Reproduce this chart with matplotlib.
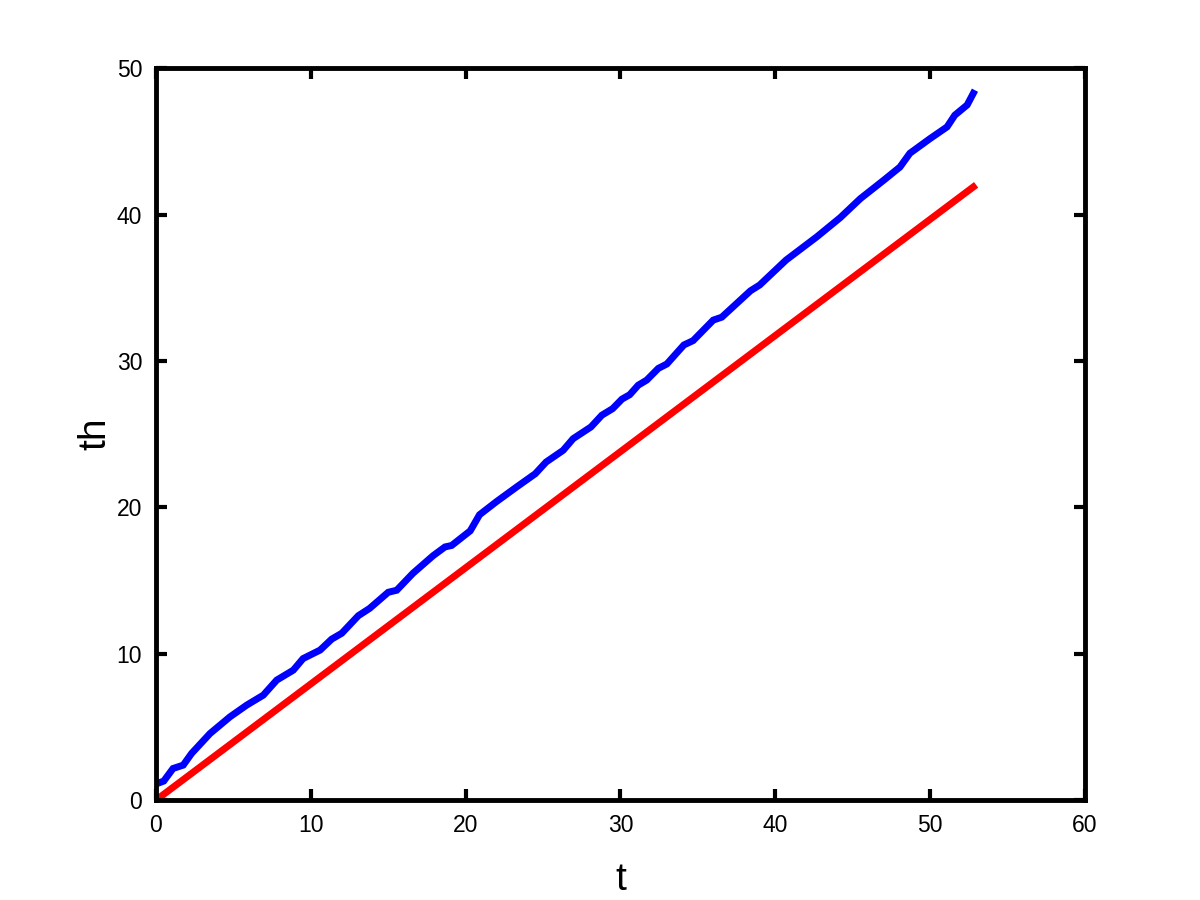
import numpy as np
import matplotlib
matplotlib.use("Agg")
import matplotlib.pyplot as plt

plt.rcParams["font.family"] = ["Liberation Sans", "DejaVu Sans"]

# blue curve
t_blue = [0.0, 0.5, 1.1, 1.76, 2.3, 3.49, 4.78, 5.86, 6.93, 7.8, 8.87, 9.5,
          10.6, 11.35, 12.0, 13.07, 13.8, 15.0, 15.55, 16.6, 17.9, 18.67, 19.1,
          20.3, 20.9, 22.0, 23.3, 24.5, 25.2, 26.3, 26.95, 28.1, 28.8, 29.5,
          30.1, 30.6, 31.15, 31.7, 32.45, 33.0, 34.1, 34.7, 36.0, 36.55, 38.4,
          39.0, 40.7, 42.7, 44.2, 45.5, 47.0, 48.06, 48.7, 50.0, 51.1, 51.6,
          52.4, 52.8]
th_blue = [1.1, 1.3, 2.16, 2.39, 3.19, 4.55, 5.69, 6.49, 7.17, 8.2, 8.88, 9.67,
           10.25, 11.0, 11.4, 12.6, 13.1, 14.2, 14.34, 15.5, 16.7, 17.3, 17.4,
           18.4, 19.5, 20.4, 21.4, 22.3, 23.1, 23.9, 24.7, 25.5, 26.3, 26.75,
           27.4, 27.7, 28.35, 28.7, 29.5, 29.8, 31.1, 31.4, 32.8, 33.0, 34.8,
           35.2, 36.9, 38.5, 39.8, 41.1, 42.35, 43.26, 44.2, 45.2, 46.0, 46.8,
           47.5, 48.3]

# red straight line
t_red = [0.0, 52.8]
th_red = [0.0, 41.9]

fig = plt.figure(figsize=(12, 9), dpi=100)
ax = fig.add_axes([0.13, 0.111, 0.774, 0.813])

ax.plot(t_blue, th_blue, color="#0000ff", lw=5, solid_joinstyle="miter")
ax.plot(t_red, th_red, color="#ff0000", lw=5)

ax.set_xlim(0, 60)
ax.set_ylim(0, 50)
ax.set_xticks(np.arange(0, 61, 10))
ax.set_yticks(np.arange(0, 51, 10))

for s in ax.spines.values():
    s.set_linewidth(3.5)
ax.tick_params(direction="in", length=8, width=3, labelsize=16.5,
               top=True, right=True, pad=10)
ax.set_xlabel("t", fontsize=28, labelpad=18)
ax.set_ylabel("th", fontsize=28, labelpad=2)

fig.savefig("out.png", dpi=100)
